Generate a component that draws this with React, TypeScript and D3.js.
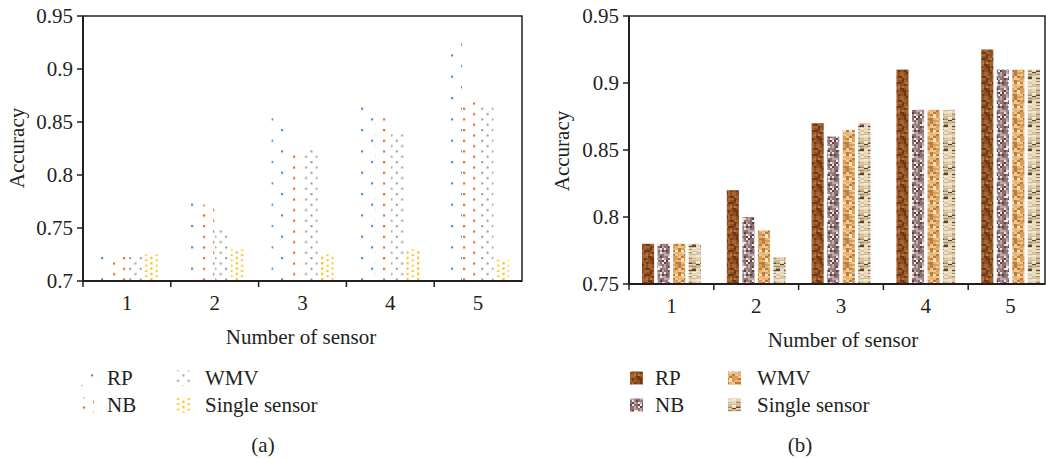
import React from 'react';
import * as d3 from 'd3';

const categories = ['1', '2', '3', '4', '5'];
const seriesNames = ['RP', 'NB', 'WMV', 'Single sensor'];

// Panel (a)
const accA_RP = [0.725, 0.78, 0.86, 0.87, 0.93];
const accA_NB = [0.725, 0.772, 0.822, 0.86, 0.87];
const accA_WMV = [0.725, 0.75, 0.825, 0.84, 0.865];
const accA_Single = [0.725, 0.73, 0.725, 0.73, 0.72];
const ticksA = [0.7, 0.75, 0.8, 0.85, 0.9, 0.95];

// Panel (b)
const accB_RP = [0.78, 0.82, 0.87, 0.91, 0.925];
const accB_NB = [0.78, 0.8, 0.86, 0.88, 0.91];
const accB_WMV = [0.78, 0.79, 0.865, 0.88, 0.91];
const accB_Single = [0.78, 0.77, 0.87, 0.88, 0.91];
const ticksB = [0.75, 0.8, 0.85, 0.9, 0.95];

const FONT = '"Liberation Serif", "Times New Roman", serif';
const FS = 21;
const INK = '#231f20';

function hash(i: number, j: number, s: number) {
  const v = Math.sin(i * 127.1 + j * 311.7 + s * 74.7) * 43758.5453;
  return v - Math.floor(v);
}

function DotPattern({ id, w, h, dots, color, size }: any) {
  return (
    <pattern id={id} patternUnits="userSpaceOnUse" width={w} height={h}>
      {dots.map((d: number[], i: number) => (
        <rect key={i} x={d[0]} y={d[1]} width={size} height={size} fill={color} />
      ))}
    </pattern>
  );
}

function TexturePattern({ id, w, h, cw, ch, palette, weights, seed }: any) {
  const cells: any[] = [];
  const cum: number[] = [];
  let acc = 0;
  weights.forEach((wt: number) => { acc += wt; cum.push(acc); });
  for (let i = 0; i < w / cw; i++) {
    for (let j = 0; j < h / ch; j++) {
      const r = hash(i, j, seed) * acc;
      let k = cum.findIndex((c) => r < c);
      if (k < 0) k = palette.length - 1;
      cells.push(<rect key={i + '_' + j} x={i * cw} y={j * ch} width={cw} height={ch} fill={palette[k]} />);
    }
  }
  return (
    <pattern id={id} patternUnits="userSpaceOnUse" width={w} height={h}>
      {cells}
    </pattern>
  );
}

function Panel({ x0, x1, boxRight, yTop, yBottom, domain, ticks, series, fills, innerPad, label, axisLabelX, legend, soft }: any) {
  const x = d3.scaleBand<string>().domain(categories).range([x0, x1]).padding(0);
  const bw = x.bandwidth();
  const inner = d3.scaleBand<string>().domain(seriesNames).range([13, bw - 13]).paddingInner(innerPad).paddingOuter(0);
  const y = d3.scaleLinear().domain(domain).range([yBottom, yTop]);
  const tickFmt = (v: number) => d3.format('')(+v.toFixed(2));
  const boundaries = categories.map((c) => x(c) as number);
  return (
    <g>
      {/* bars */}
      <g filter={soft ? 'url(#soft)' : undefined}>
        {series.map((vals: number[], si: number) =>
          vals.map((v: number, ci: number) => {
            const bx = (x(categories[ci]) as number) + (inner(seriesNames[si]) as number);
            return (
              <rect key={si + '-' + ci} x={bx} y={y(v)} width={inner.bandwidth()} height={y(domain[0]) - y(v)} fill={`url(#${fills[si]})`} />
            );
          })
        )}
      </g>
      {/* frame */}
      <rect x={x0} y={yTop} width={boxRight - x0} height={yBottom - yTop} fill="none" stroke={INK} strokeWidth={1.5} />
      <line x1={x0} x2={x0} y1={yTop} y2={yBottom} stroke={INK} strokeWidth={2} />
      <line x1={x0} x2={boxRight} y1={yBottom} y2={yBottom} stroke={INK} strokeWidth={2} />
      {/* y ticks */}
      {ticks.map((t: number) => (
        <g key={t}>
          <line x1={x0 - 6} x2={x0} y1={y(t)} y2={y(t)} stroke={INK} strokeWidth={1.5} />
          <text x={x0 - 10} y={y(t)} dy="0.33em" textAnchor="end" fontFamily={FONT} fontSize={FS} fill={INK}>{tickFmt(t)}</text>
        </g>
      ))}
      {/* x ticks at category boundaries */}
      {boundaries.map((b: number, i: number) => (
        <line key={i} x1={b} x2={b} y1={yBottom} y2={yBottom + 6} stroke={INK} strokeWidth={1.5} />
      ))}
      {categories.map((c) => (
        <text key={c} x={(x(c) as number) + bw / 2} y={yBottom + 22} dy="0.33em" textAnchor="middle" fontFamily={FONT} fontSize={FS} fill={INK}>{c}</text>
      ))}
      <text x={axisLabelX} y={yBottom + 56} dy="0.33em" textAnchor="middle" fontFamily={FONT} fontSize={FS} fill={INK}>Number of sensor</text>
      <text transform={`translate(${label.yx},${label.yy}) rotate(-90)`} textAnchor="middle" dy="0.33em" fontFamily={FONT} fontSize={FS} fill={INK}>Accuracy</text>
      {/* legend */}
      {seriesNames.map((s, i) => {
        const col = i < 2 ? 0 : 1;
        const row = i % 2;
        const mx = legend.mx[col];
        const tx = legend.tx[col];
        const cy = legend.rows[row];
        return (
          <g key={s}>
            <rect x={mx} y={cy - legend.ms / 2} width={legend.ms} height={legend.ms} fill={`url(#${fills[i]})`} />
            <text x={tx} y={cy} dy="0.33em" fontFamily={FONT} fontSize={FS} fill={INK}>{s}</text>
          </g>
        );
      })}
      <text x={legend.capX} y={445} dy="0.33em" textAnchor="middle" fontFamily={FONT} fontSize={FS} fill={INK}>{label.cap}</text>
    </g>
  );
}

export default function App() {
  return (
    <svg width={1046} height={459} style={{ position: 'absolute', left: 0, top: 0, background: '#fff' }}>
      <defs>
        <filter id="soft" x="0" y="0" width="1" height="1">
          <feGaussianBlur stdDeviation="0.45" />
        </filter>
        <DotPattern id="pRP" w={20} h={21.33} size={2.2} color="#4f93d6" dots={[[1, 1], [11, 11.67]]} />
        <DotPattern id="pNB" w={20} h={10.67} size={2.2} color="#ea7027" dots={[[3, 1], [13, 6.33]]} />
        <DotPattern id="pWMV" w={10.67} h={10.67} size={2.1} color="#9e9e9e" dots={[[1, 1], [6.33, 6.33]]} />
        <DotPattern id="pSingle" w={10.67} h={5.33} size={2.2} color="#ffbb00" dots={[[1, 1], [6.33, 3.67]]} />
        <TexturePattern id="tRP" w={12} h={24} cw={2} ch={2} seed={1}
          palette={['#8e4f21', '#a5652f', '#6f3613', '#b87a45']} weights={[4, 3, 2, 1]} />
        <TexturePattern id="tNB" w={12} h={24} cw={2} ch={2} seed={2}
          palette={['#8a7070', '#5b4343', '#bfa9aa', '#efe4e3', '#9e8686']} weights={[3, 2.5, 2, 1.2, 2]} />
        <TexturePattern id="tWMV" w={12} h={24} cw={3} ch={2} seed={3}
          palette={['#d99d5a', '#f0c78e', '#bd7b3a', '#e6b574', '#f8e2bd']} weights={[3, 2, 2, 2, 1]} />
        <TexturePattern id="tSingle" w={12} h={24} cw={4} ch={1.5} seed={4}
          palette={['#d3bb93', '#e6d7ba', '#a78a60', '#5c4427', '#f5ecdb']} weights={[4, 3, 2, 0.8, 1.5]} />
      </defs>
      <Panel
        x0={83} x1={522} boxRight={522} yTop={16} yBottom={281}
        domain={[0.7, 0.95]} ticks={ticksA}
        series={[accA_RP, accA_NB, accA_WMV, accA_Single]}
        fills={['pRP', 'pNB', 'pWMV', 'pSingle']}
        innerPad={0.05}
        axisLabelX={301}
        label={{ yx: 17, yy: 148, cap: '(a)' }}
        legend={{ mx: [79, 176], tx: [107, 205], rows: [378, 405], ms: 15, capX: 263 }}
      />
      <Panel
        x0={629} x1={1053} boxRight={1045} yTop={16} yBottom={284}
        domain={[0.75, 0.95]} ticks={ticksB}
        series={[accB_RP, accB_NB, accB_WMV, accB_Single]}
        fills={['tRP', 'tNB', 'tWMV', 'tSingle']}
        innerPad={0.22}
        soft={true}
        axisLabelX={843}
        label={{ yx: 562, yy: 151, cap: '(b)' }}
        legend={{ mx: [630, 728], tx: [655, 757], rows: [378, 405], ms: 13, capX: 800 }}
      />
    </svg>
  );
}
